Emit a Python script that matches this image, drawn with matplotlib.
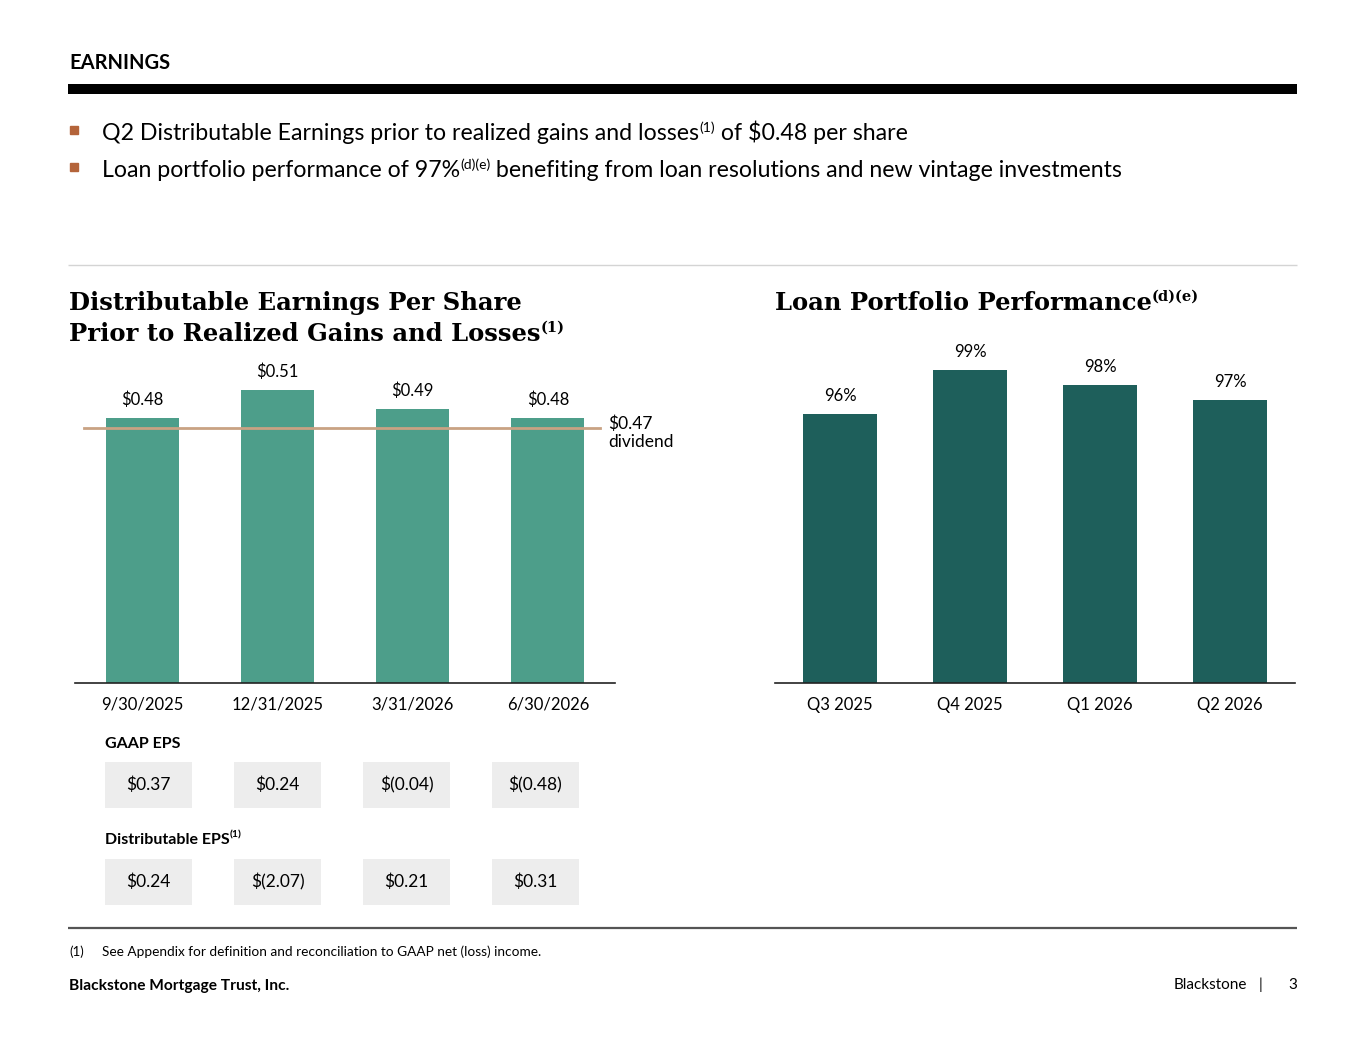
import matplotlib.pyplot as plt
from matplotlib.lines import Line2D
from matplotlib.patches import Rectangle

# data
dates = ['9/30/2025', '12/31/2025', '3/31/2026', '6/30/2026']
de_eps = [0.48, 0.51, 0.49, 0.48]
dividend = 0.47
quarters = ['Q3 2025', 'Q4 2025', 'Q1 2026', 'Q2 2026']
loan_perf = [96, 99, 98, 97]
gaap_eps = [0.37, 0.24, -0.04, -0.48]
dist_eps = [0.24, -2.07, 0.21, 0.31]

SANS = ['Lato', 'DejaVu Sans']
SERIF = ['DejaVu Serif']
plt.rcParams['font.family'] = SANS

W, H = 1365, 1055
fig = plt.figure(figsize=(W / 100, H / 100), dpi=100)
fig.patch.set_facecolor('white')


def fx(px):
    return px / W


def fy(py):
    return 1 - py / H


def money(v):
    return f'${v:.2f}' if v >= 0 else f'$({-v:.2f})'


def rich(x, y, parts):
    # parts: (text, size, raise_px, weight, family)
    r = fig.canvas.get_renderer()
    cur = fx(x)
    for txt, size, up, weight, fam in parts:
        t = fig.text(cur, fy(y - up), txt, fontsize=size, fontweight=weight,
                     family=fam, va='baseline', ha='left', color='black')
        bb = t.get_window_extent(r)
        cur = bb.x1 / W


def hline(x0, x1, y, color, lw):
    fig.add_artist(Line2D([fx(x0), fx(x1)], [fy(y), fy(y)], color=color, lw=lw,
                          transform=fig.transFigure, solid_capstyle='butt'))


# header
fig.text(fx(69), fy(63), 'EARNINGS', fontsize=14.5, fontweight='bold', va='center', family=SANS)
hline(68, 1297, 89, 'black', 7.2)

# bullets
for yb in [130, 167]:
    fig.add_artist(Rectangle((fx(70), fy(yb + 4)), fx(8), 8 / H,
                             color='#B4643A', transform=fig.transFigure))
rich(102, 140, [('Q2 Distributable Earnings prior to realized gains and losses', 16.7, 0, 'normal', SANS),
                ('(1)', 10, 8, 'normal', SANS),
                (' of $0.48 per share', 16.7, 0, 'normal', SANS)])
rich(102, 177, [('Loan portfolio performance of 97%', 16.7, 0, 'normal', SANS),
                ('(d)(e)', 10, 8, 'normal', SANS),
                (' benefiting from loan resolutions and new vintage investments', 16.7, 0, 'normal', SANS)])

hline(68, 1297, 265, '#d4d4d4', 1)

# titles
rich(69, 310, [('Distributable Earnings Per Share', 17.5, 0, 'bold', SERIF)])
rich(69, 341, [('Prior to Realized Gains and Losses', 17.5, 0, 'bold', SERIF),
               ('(1)', 10.5, 9, 'bold', SERIF)])
rich(775, 310, [('Loan Portfolio Performance', 17.5, 0, 'bold', SERIF),
                ('(d)(e)', 10.5, 9, 'bold', SERIF)])

# left chart
axL = fig.add_axes([fx(75), fy(683), fx(615) - fx(75), (683 - 360) / H])
xs = range(len(dates))
axL.bar(xs, de_eps, width=0.54, color='#4D9E8A', zorder=2)
axL.set_xlim(-0.496, 3.496)
axL.set_ylim(0.2, 0.5414)
axL.axhline(dividend, xmin=0.017, xmax=0.972, color='#C9A283', lw=2, zorder=3)
for x, v in zip(xs, de_eps):
    axL.annotate(money(v), (x, v), xytext=(0, 13), textcoords='offset points',
                 ha='center', va='center', fontsize=12)
axL.annotate(f'${dividend:.2f}\ndividend', (0.987, dividend),
             xycoords=('axes fraction', 'data'), xytext=(0, 9), textcoords='offset points',
             ha='left', va='top', fontsize=12.5, linespacing=1.2)
axL.set_xticks(list(xs))
axL.set_xticklabels(dates, fontsize=12)

# right chart
axR = fig.add_axes([fx(775), fy(683), fx(1295) - fx(775), (683 - 360) / H])
xs2 = range(len(quarters))
axR.bar(xs2, loan_perf, width=0.57, color='#1E5F5B', zorder=2)
axR.set_xlim(-0.5, 3.5)
axR.set_ylim(77.7, 99.7)
for x, v in zip(xs2, loan_perf):
    axR.annotate(f'{v}%', (x, v), xytext=(0, 13), textcoords='offset points',
                 ha='center', va='center', fontsize=12)
axR.set_xticks(list(xs2))
axR.set_xticklabels(quarters, fontsize=12)

for ax in (axL, axR):
    for s in ['top', 'left', 'right']:
        ax.spines[s].set_visible(False)
    ax.spines['bottom'].set_color('#222222')
    ax.spines['bottom'].set_linewidth(1.2)
    ax.set_yticks([])
    ax.tick_params(axis='x', length=0, pad=10)
    ax.set_facecolor('none')

# EPS table
axT = fig.add_axes([fx(84), fy(915), fx(600) - fx(84), (915 - 725) / H])
axT.set_xlim(-0.5, 3.5)
axT.set_ylim(1.347, -0.622)
axT.axis('off')
rows = [('GAAP EPS', '', gaap_eps), ('Distributable EPS', '(1)', dist_eps)]
for r, (label, sup, vals) in enumerate(rows):
    t = axT.text(-0.337, r - 0.43, label, fontsize=11.5, fontweight='bold',
                 ha='left', va='center')
    if sup:
        axT.annotate(sup, (1, 0.5), xycoords=t, xytext=(0, 4), textcoords='offset points',
                     fontsize=7.5, fontweight='bold', ha='left', va='center')
    for c, v in enumerate(vals):
        axT.add_patch(Rectangle((c - 0.337, r - 0.238), 0.674, 0.477,
                                facecolor='#EDEDED', edgecolor='none'))
        axT.text(c, r, money(v), fontsize=12.5, ha='center', va='center')

# footer
hline(68, 1297, 928, '#555555', 1.6)
fig.text(fx(69), fy(952), '(1)', fontsize=9.5, va='center')
fig.text(fx(102), fy(952), 'See Appendix for definition and reconciliation to GAAP net (loss) income.',
         fontsize=9.8, va='center')
fig.text(fx(69), fy(986), 'Blackstone Mortgage Trust, Inc.', fontsize=11.2, fontweight='bold', va='center')
fig.text(fx(1247), fy(985), 'Blackstone', fontsize=11, ha='right', va='center')
fig.text(fx(1260), fy(985), '|', fontsize=11, ha='center', va='center')
fig.text(fx(1297), fy(985), '3', fontsize=11, ha='right', va='center')

fig.savefig('out.png', dpi=100, facecolor='white')
